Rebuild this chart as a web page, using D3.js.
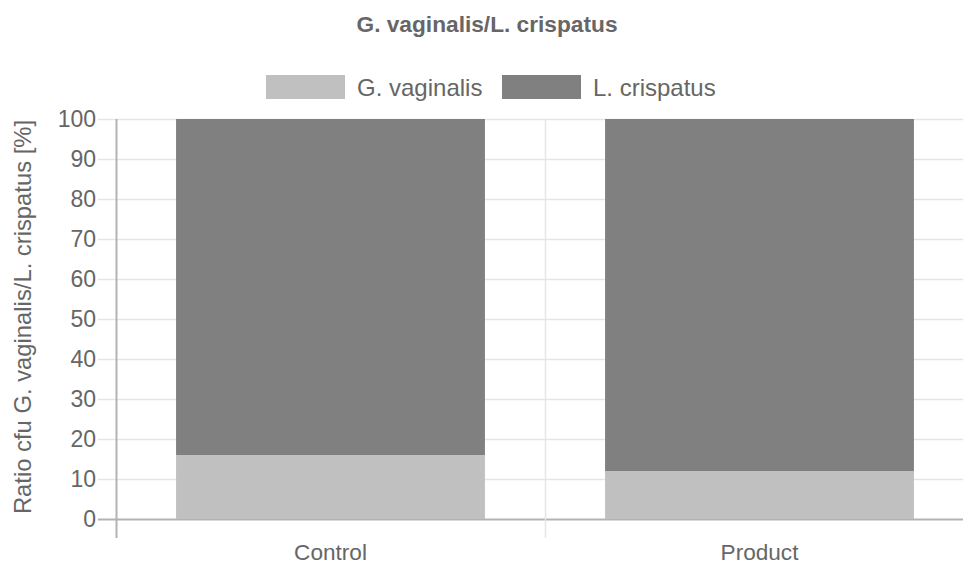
<!DOCTYPE html>
<html>
<head>
<meta charset="utf-8">
<script src="https://cdn.jsdelivr.net/npm/d3@7"></script>
<style>
  body { margin: 0; background: #fff; }
  svg { display: block; font-family: "Liberation Sans", Arial, sans-serif; }
</style>
</head>
<body>
<script>
// chart values
const categories = ["Control", "Product"];
const gVaginalis = [16, 12];
const lCrispatus = [84, 88];
const seriesNames = ["G. vaginalis", "L. crispatus"];
const seriesColors = ["#c0c0c0", "#808080"];
const yTicks = [0, 10, 20, 30, 40, 50, 60, 70, 80, 90, 100];

var w = 963;
var h = 564;
var plot = { left: 116, right: 974, top: 119, bottom: 519 };

var svg = d3.select("body").append("svg").attr("width", w).attr("height", h);

var x = d3.scaleBand().domain(categories).range([plot.left, plot.right]);
var y = d3.scaleLinear().domain([0, 100]).range([plot.bottom, plot.top]);

// title
svg.append("text")
  .attr("x", 487).attr("y", 32)
  .attr("text-anchor", "middle")
  .attr("font-size", 22.7).attr("font-weight", "bold")
  .attr("fill", "#666")
  .text("G. vaginalis/L. crispatus");

// legend
var legend = svg.append("g");
var legendX = [266, 502];
seriesNames.forEach(function(name, i) {
  legend.append("rect")
    .attr("x", legendX[i]).attr("y", 75)
    .attr("width", 79).attr("height", 24)
    .attr("fill", seriesColors[i]);
  legend.append("text")
    .attr("x", legendX[i] + 91).attr("y", 96)
    .attr("font-size", 24).attr("fill", "#666")
    .text(name);
});

// horizontal gridlines + tick marks
svg.append("g").selectAll("line").data(yTicks).join("line")
  .attr("x1", plot.left - 18).attr("x2", plot.right)
  .attr("y1", d => y(d) + 0.5).attr("y2", d => y(d) + 0.5)
  .attr("stroke", d => d === 0 ? "#b3b3b3" : "#e5e5e5")
  .attr("stroke-width", d => d === 0 ? 2 : 1.5);

// vertical category gridlines
var vLines = [plot.left, plot.left + x.step()];
svg.append("g").selectAll("line").data(vLines).join("line")
  .attr("x1", d => d + 0.5).attr("x2", d => d + 0.5)
  .attr("y1", plot.top).attr("y2", plot.bottom + 19)
  .attr("stroke", (d, i) => i === 0 ? "#b3b3b3" : "#e5e5e5")
  .attr("stroke-width", (d, i) => i === 0 ? 2 : 1.5);

// y tick labels
svg.append("g").selectAll("text").data(yTicks).join("text")
  .attr("x", 96).attr("y", d => y(d))
  .attr("dy", "0.35em")
  .attr("text-anchor", "end")
  .attr("font-size", 23).attr("fill", "#666")
  .text(d => d);

// x labels
svg.append("g").selectAll("text").data(categories).join("text")
  .attr("x", d => x(d) + x.bandwidth() / 2)
  .attr("y", 560)
  .attr("text-anchor", "middle")
  .attr("font-size", 22.6).attr("fill", "#666")
  .text(d => d);

// y axis title
svg.append("text")
  .attr("transform", "translate(31," + ((plot.top + plot.bottom) / 2 - 2) + ") rotate(-90)")
  .attr("text-anchor", "middle")
  .attr("font-size", 23.8).attr("fill", "#666")
  .text("Ratio cfu G. vaginalis/L. crispatus [%]");

// stacked bars
var rows = categories.map((c, i) => ({ cat: c, g: gVaginalis[i], l: lCrispatus[i] }));
var stack = d3.stack().keys(["g", "l"])(rows);
var barW = x.bandwidth() * 0.72;

svg.append("g").selectAll("g").data(stack).join("g")
  .attr("fill", (d, i) => seriesColors[i])
  .selectAll("rect").data(d => d).join("rect")
  .attr("x", d => x(d.data.cat) + (x.bandwidth() - barW) / 2)
  .attr("width", barW)
  .attr("y", d => y(d[1]))
  .attr("height", d => y(d[0]) - y(d[1]));
</script>
</body>
</html>
